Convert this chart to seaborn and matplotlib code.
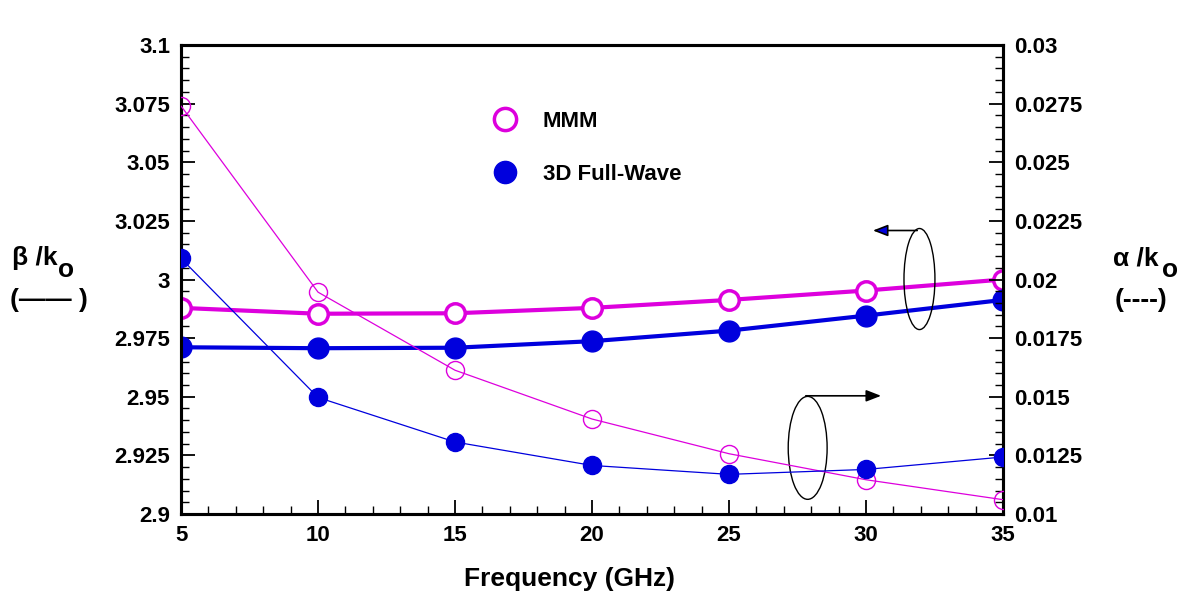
import matplotlib
matplotlib.use("Agg")
import matplotlib.pyplot as plt
import seaborn as sns
import numpy as np
from matplotlib.lines import Line2D
from matplotlib.patches import Ellipse
from matplotlib.ticker import FixedLocator, MultipleLocator

sns.set_style("white")
plt.rcParams['font.family'] = ['Liberation Sans', 'DejaVu Sans']
plt.rcParams['font.weight'] = 'bold'
for k in ['text.color', 'axes.labelcolor', 'xtick.color', 'ytick.color', 'axes.edgecolor']:
    plt.rcParams[k] = 'black'

freq = [5, 10, 15, 20, 25, 30, 35]
beta_mmm = [2.9879, 2.9854, 2.9856, 2.9879, 2.9913, 2.9953, 3.0]
beta_fw = [2.9711, 2.9707, 2.9709, 2.9737, 2.9782, 2.9846, 2.9913]
alpha_mmm = [0.0274, 0.01946, 0.01613, 0.01405, 0.01257, 0.01146, 0.01061]
alpha_fw = [0.0209, 0.01497, 0.01307, 0.01207, 0.01169, 0.0119, 0.01243]

x_ticks = [5, 10, 15, 20, 25, 30, 35]
left_ticks = [2.9, 2.925, 2.95, 2.975, 3.0, 3.025, 3.05, 3.075, 3.1]
left_labels = ['2.9', '2.925', '2.95', '2.975', '3', '3.025', '3.05', '3.075', '3.1']
right_ticks = [0.01, 0.0125, 0.015, 0.0175, 0.02, 0.0225, 0.025, 0.0275, 0.03]
right_labels = ['0.01', '0.0125', '0.015', '0.0175', '0.02', '0.0225', '0.025', '0.0275', '0.03']

MAG = '#DD00DD'
BLU = '#0000DD'

fig = plt.figure(figsize=(11.88, 5.94), dpi=100)
ax = fig.add_axes([0.1524, 0.1347, 0.8443 - 0.1524, 0.9242 - 0.1347])
ax2 = ax.twinx()

# thick lines (beta, left axis)
sns.lineplot(x=freq, y=beta_mmm, ax=ax, color=MAG, lw=3, marker='o', ms=14,
             mfc='white', mec=MAG, mew=2.5, zorder=5)
sns.lineplot(x=freq, y=beta_fw, ax=ax, color=BLU, lw=3, marker='o', ms=15,
             mfc=BLU, mec=BLU, mew=1, zorder=5)
# thin lines (alpha, right axis)
sns.lineplot(x=freq, y=alpha_mmm, ax=ax2, color=MAG, lw=0.9, marker='o', ms=13,
             mfc='none', mec=MAG, mew=1.0, zorder=5)
sns.lineplot(x=freq, y=alpha_fw, ax=ax2, color=BLU, lw=0.9, marker='o', ms=13,
             mfc=BLU, mec=BLU, mew=1, zorder=5)

ax.set_xlim(5, 35)
ax.set_ylim(2.9, 3.1)
ax2.set_ylim(0.01, 0.03)

ax.xaxis.set_major_locator(FixedLocator(x_ticks))
ax.xaxis.set_minor_locator(MultipleLocator(1))
ax.set_xticklabels([str(v) for v in x_ticks])
ax.yaxis.set_major_locator(FixedLocator(left_ticks))
ax.set_yticklabels(left_labels)
ax.yaxis.set_minor_locator(MultipleLocator(0.005))
ax2.yaxis.set_major_locator(FixedLocator(right_ticks))
ax2.set_yticklabels(right_labels)
ax2.yaxis.set_minor_locator(MultipleLocator(0.0005))

for a in (ax, ax2):
    for s in a.spines.values():
        s.set_linewidth(2.2)
        s.set_color('black')
    a.tick_params(which='major', direction='in', length=10, width=1.3,
                  labelsize=16, pad=8, colors='black')
    a.tick_params(which='minor', direction='in', length=6, width=1.0, colors='black')
ax.tick_params(axis='x', which='both', top=False, bottom=True)
ax.tick_params(axis='y', which='both', left=True, right=False)
ax2.tick_params(axis='y', which='both', left=False, right=True)
for lab in ax.get_xticklabels() + ax.get_yticklabels() + ax2.get_yticklabels():
    lab.set_fontweight('bold')
    lab.set_color('black')

ax.set_xlabel('Frequency (GHz)', fontsize=19, fontweight='bold', color='black')
ax.xaxis.set_label_coords(0.473, -0.113)
ax.set_ylabel('')
ax2.set_ylabel('')

# ellipses and arrows
ax.add_patch(Ellipse((31.95, 3.0002), 1.13, 0.0431, fill=False, ec='black', lw=1.0, zorder=6))
ax.annotate('', xy=(30.15, 3.0209), xytext=(31.97, 3.0209),
            arrowprops=dict(arrowstyle='-|>,head_length=0.9,head_width=0.35',
                            fc=BLU, ec='black', lw=1.2), zorder=6)
ax.add_patch(Ellipse((27.87, 2.9282), 1.42, 0.0439, fill=False, ec='black', lw=1.0, zorder=6))
ax.annotate('', xy=(30.65, 2.9504), xytext=(27.7, 2.9504),
            arrowprops=dict(arrowstyle='-|>,head_length=0.9,head_width=0.35',
                            fc='black', ec='black', lw=1.2), zorder=6)

# legend
handles = [
    Line2D([], [], ls='none', marker='o', ms=16, mfc='white', mec=MAG, mew=2.5),
    Line2D([], [], ls='none', marker='o', ms=16, mfc=BLU, mec=BLU),
]
leg = ax.legend(handles, ['MMM', '3D Full-Wave'], frameon=False,
                loc='upper left', bbox_to_anchor=(0.343, 0.902),
                prop={'size': 16, 'weight': 'bold'}, labelspacing=1.45,
                handletextpad=0.7, labelcolor='black')

# side labels
fig.text(12 / 1188, 1 - 258 / 594, 'β /k', fontsize=19, fontweight='bold', va='center', ha='left', color='black')
fig.text(58 / 1188, 1 - 270 / 594, 'o', fontsize=19, fontweight='bold', va='center', ha='left', color='black')
fig.text(10 / 1188, 1 - 300 / 594, '(—— )', fontsize=19, fontweight='bold', va='center', ha='left', color='black')
fig.text(1113 / 1188, 1 - 258 / 594, 'α /k', fontsize=19, fontweight='bold', va='center', ha='left', color='black')
fig.text(1162 / 1188, 1 - 270 / 594, 'o', fontsize=19, fontweight='bold', va='center', ha='left', color='black')
fig.text(1115 / 1188, 1 - 300 / 594, '(----)', fontsize=19, fontweight='bold', va='center', ha='left', color='black')

fig.savefig('out.png', dpi=100)
